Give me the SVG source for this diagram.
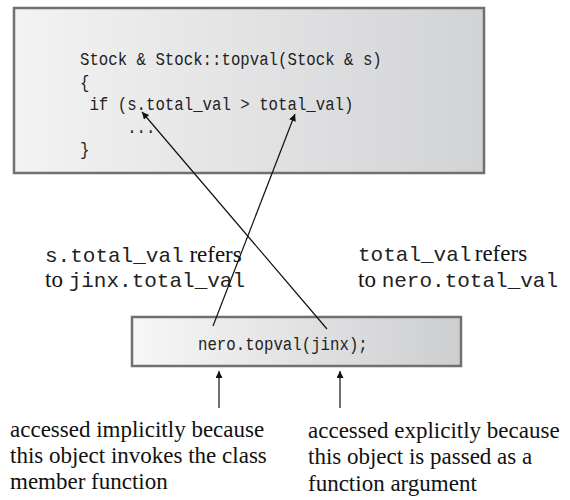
<svg xmlns="http://www.w3.org/2000/svg" width="570" height="500" viewBox="0 0 570 500">
<defs>
<linearGradient id="gTop" x1="0" y1="0" x2="1" y2="0">
<stop offset="0" stop-color="#f3f3f3"/>
<stop offset="1" stop-color="#d2d3d5"/>
</linearGradient>
<linearGradient id="gBot" x1="0" y1="0" x2="1" y2="0">
<stop offset="0" stop-color="#f7f7f7"/>
<stop offset="1" stop-color="#cdced0"/>
</linearGradient>
<marker id="ah" viewBox="0 0 10 10" refX="10" refY="5" markerWidth="9" markerHeight="7" markerUnits="userSpaceOnUse" orient="auto">
<path d="M0,0 L10,5 L0,10 z" fill="#111"/>
</marker>
<style>
.box{stroke:#707070;stroke-width:2.5}
.code{font-family:"Liberation Mono","DejaVu Sans Mono",monospace;font-size:18.5px;fill:#222}
.mono{font-family:"Liberation Mono","DejaVu Sans Mono",monospace;font-size:21px;fill:#222}
.serif{font-family:"Liberation Serif","Times New Roman",serif;font-size:23px;fill:#111}
.conn{stroke:#111;stroke-width:1.2;fill:none;marker-end:url(#ah)}
</style>
</defs>

<g id="function-box">
<rect class="box" x="14" y="8" width="470" height="165" fill="url(#gTop)"/>
<text class="code" transform="matrix(0.85 0 0 1 80 65)" x="0" y="0" xml:space="preserve">Stock &amp; Stock::topval(Stock &amp; s)</text>
<text class="code" transform="matrix(0.85 0 0 1 80 87.5)" x="0" y="0" xml:space="preserve">{</text>
<text class="code" transform="matrix(0.85 0 0 1 80 110)" x="0" y="0" xml:space="preserve"> if (s.total_val &gt; total_val)</text>
<text class="code" transform="matrix(0.85 0 0 1 80 132.5)" x="0" y="0" xml:space="preserve">     ...</text>
<text class="code" transform="matrix(0.85 0 0 1 80 155)" x="0" y="0" xml:space="preserve">}</text>
</g>

<g id="call-box">
<rect class="box" x="132" y="317" width="329" height="49" fill="url(#gBot)"/>
<text class="code" transform="matrix(0.85 0 0 1 198 350)" x="0" y="0">nero.topval(jinx);</text>
</g>

<g id="label-s-total">
<text x="45" y="262" xml:space="preserve"><tspan class="mono">s.total_val</tspan><tspan class="serif"> refers</tspan></text>
<text x="45" y="287" xml:space="preserve"><tspan class="serif">to </tspan><tspan class="mono">jinx.total_val</tspan></text>
</g>

<g id="label-total">
<text x="358" y="261" xml:space="preserve"><tspan class="mono">total_val</tspan><tspan class="serif" x="469"> refers</tspan></text>
<text x="358" y="287" xml:space="preserve"><tspan class="serif">to </tspan><tspan class="mono">nero.total_val</tspan></text>
</g>

<g id="label-implicit">
<text class="serif" x="10" y="437">accessed implicitly because</text>
<text class="serif" x="10" y="463">this object invokes the class</text>
<text class="serif" x="10" y="489">member function</text>
</g>

<g id="label-explicit">
<text class="serif" x="308" y="438">accessed explicitly because</text>
<text class="serif" x="308" y="464">this object is passed as a</text>
<text class="serif" x="308" y="491">function argument</text>
</g>

<g id="connectors">
<line class="conn" x1="327" y1="329" x2="142" y2="112"/>
<line class="conn" x1="213" y1="326" x2="295" y2="114"/>
<line class="conn" x1="219" y1="408" x2="219" y2="371"/>
<line class="conn" x1="340" y1="408" x2="340" y2="371"/>
</g>
</svg>
